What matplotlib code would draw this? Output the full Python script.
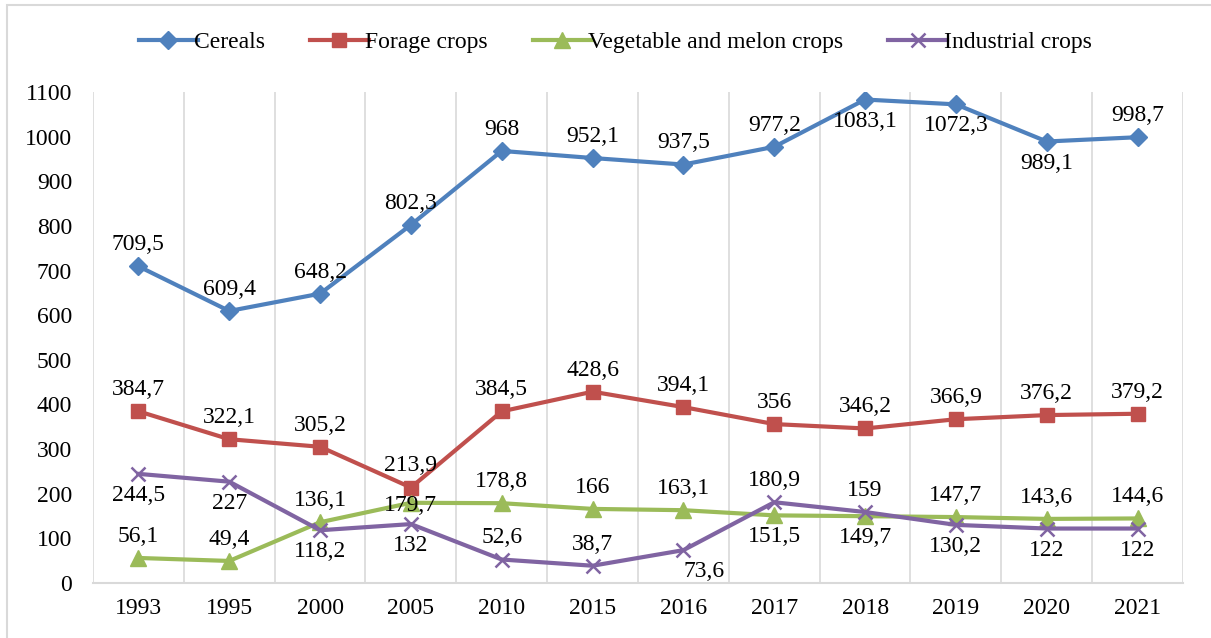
import matplotlib.pyplot as plt
from matplotlib.patches import Rectangle

# Data
years = ['1993', '1995', '2000', '2005', '2010', '2015', '2016', '2017',
         '2018', '2019', '2020', '2021']
cereals = [709.5, 609.4, 648.2, 802.3, 968, 952.1, 937.5, 977.2, 1083.1,
           1072.3, 989.1, 998.7]
forage = [384.7, 322.1, 305.2, 213.9, 384.5, 428.6, 394.1, 356, 346.2,
          366.9, 376.2, 379.2]
vegetable = [56.1, 49.4, 136.1, 179.7, 178.8, 166, 163.1, 151.5, 149.7,
             147.7, 143.6, 144.6]
industrial = [244.5, 227, 118.2, 132, 52.6, 38.7, 73.6, 180.9, 159, 130.2,
              122, 122]

# label placement per point: 'a' above, 'b' below, 'c' centre, 'r' below right
cereal_pos = list('aaaaaaaabbba')
forage_pos = list('aaaaaaaaaaaa')
veg_pos = list('aaacaaabbaaa')
ind_pos = list('bbbbaaraabbb')

plt.rcParams['font.family'] = ['Liberation Serif', 'DejaVu Serif']
fs = 17

fig = plt.figure(figsize=(12.11, 6.38), dpi=100)
ax = fig.add_axes([93 / 1211, 55 / 638, 1090 / 1211, 491 / 638])

series = [
    ('Cereals', cereals, '#4F81BD', 'D', 9.5, cereal_pos),
    ('Forage crops', forage, '#C0504D', 's', 10.5, forage_pos),
    ('Vegetable and melon crops', vegetable, '#9BBB59', '^', 11.5, veg_pos),
    ('Industrial crops', industrial, '#8064A2', 'x', 10.5, ind_pos),
]

x = list(range(len(years)))
for name, vals, col, mk, ms, pos in series:
    ax.plot(x, vals, color=col, lw=3, marker=mk, ms=ms, mew=1.8 if mk == 'x' else 1,
            mec=col, mfc=col, label=name, zorder=3)
    for xi, v, p in zip(x, vals, pos):
        txt = f'{v:g}'.replace('.', ',')
        if p == 'a':
            off, va, ha = (0, 8), 'bottom', 'center'
        elif p == 'b':
            off, va, ha = (0, -8), 'top', 'center'
        elif p == 'r':
            off, va, ha = (0, -8), 'top', 'left'
        else:
            off, va, ha = (0, -2), 'center', 'center'
        ax.annotate(txt, (xi, v), xytext=off, textcoords='offset points',
                    ha=ha, va=va, fontsize=fs, zorder=4)

ax.set_xlim(-0.5, len(years) - 0.5)
ax.set_ylim(0, 1100)
ax.set_yticks(range(0, 1101, 100))
ax.set_xticks(x)
ax.set_xticklabels(years)
ax.tick_params(axis='both', length=0, labelsize=fs)
ax.tick_params(axis='y', pad=15)
ax.tick_params(axis='x', pad=11)

for b in [i + 0.5 for i in range(-1, len(years))]:
    ax.axvline(b, color='#d9d9d9', lw=1.2, zorder=1)

for s in ['top', 'left', 'right']:
    ax.spines[s].set_visible(False)
ax.spines['bottom'].set_color('#d9d9d9')
ax.spines['bottom'].set_linewidth(1.5)

fig.legend(loc='center', bbox_to_anchor=(0.508, 0.934), ncol=4, frameon=False,
           fontsize=fs, handlelength=2.5, handletextpad=-0.15, columnspacing=1.9)

fig.patches.append(Rectangle((7 / 1211, -0.1), 1.2, 1.1 - 5 / 638,
                             transform=fig.transFigure, fill=False,
                             ec='#d9d9d9', lw=1.5))

fig.savefig('out.png', dpi=100)
